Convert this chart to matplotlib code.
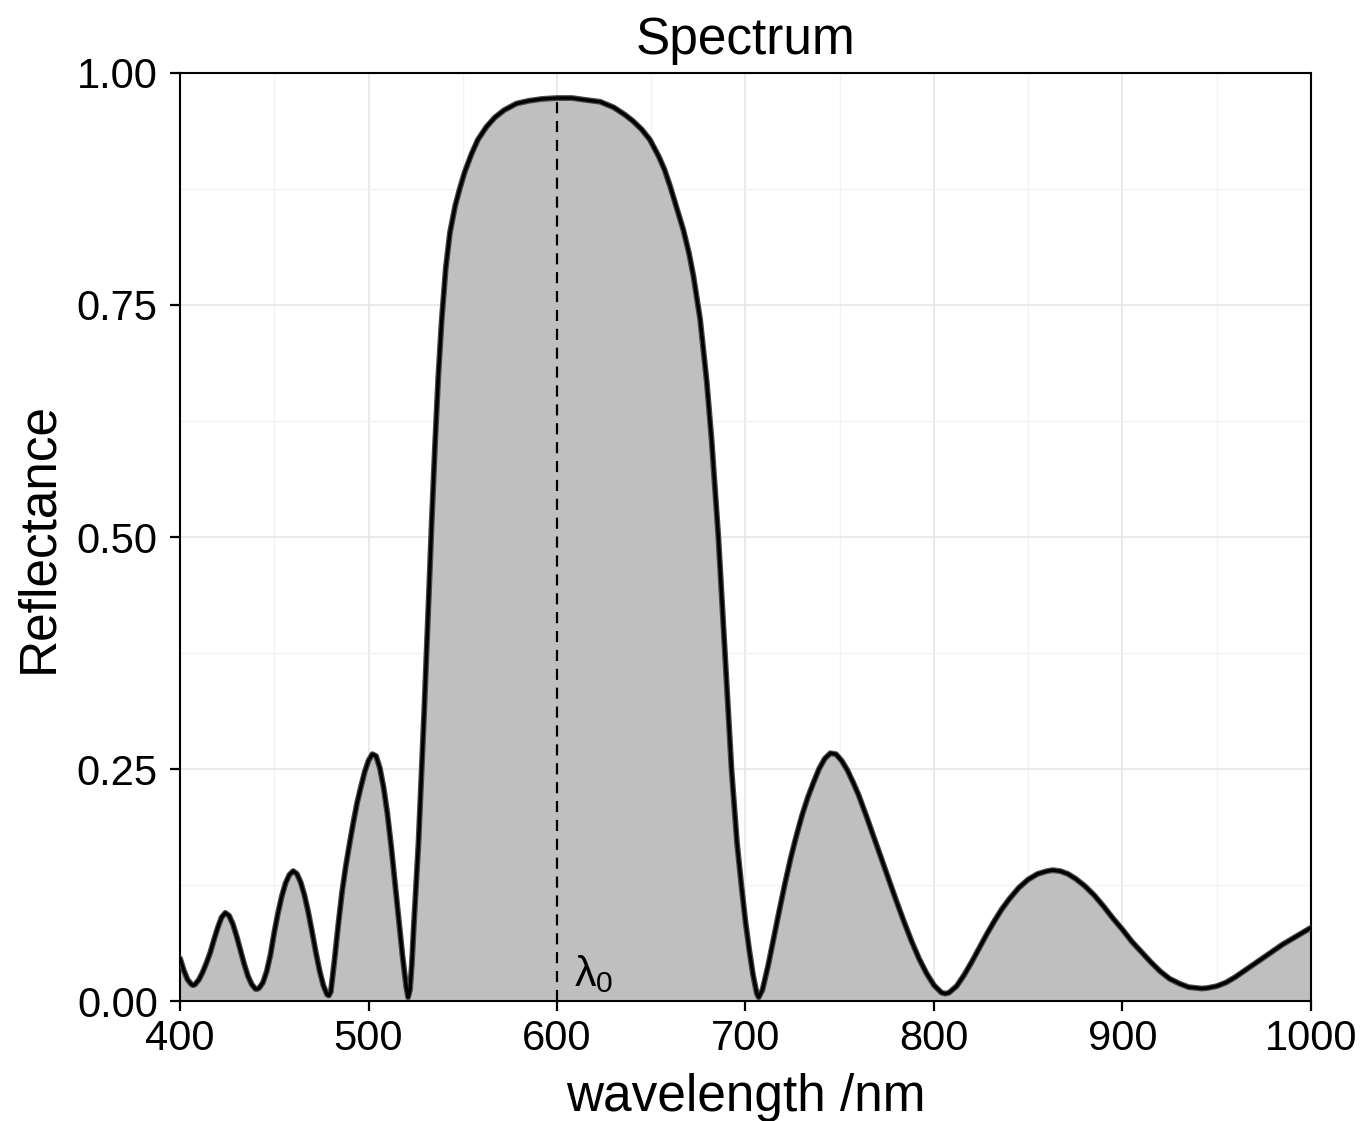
import matplotlib
matplotlib.use("Agg")
import matplotlib.pyplot as plt
from matplotlib.ticker import MultipleLocator

plt.rcParams['font.family'] = ['Liberation Sans', 'DejaVu Sans']

# wavelength (nm) and reflectance
wl = [400, 402, 404, 406, 407, 408, 410, 412, 414, 416, 418, 420, 422, 424,
      426, 428, 430, 432, 434, 436, 438, 440, 441, 442, 444, 446, 448, 450,
      452, 454, 456, 458, 460, 462, 464, 466, 468, 470, 472, 474, 476, 478,
      479, 480, 482, 484, 486, 488, 490, 492, 494, 496, 498, 500, 502, 504,
      506, 508, 510, 512, 514, 516, 518, 520, 521, 522, 523, 524, 525.2,
      526.5, 528.2, 529.5, 530.8, 532, 533.5, 535.3, 537, 538.8, 541, 543.2,
      546, 548.5, 551, 554.7, 558, 562.6, 567, 572, 578.5, 585, 592, 600,
      608, 615, 622.8, 630, 636, 640.4, 645, 649.3, 654, 657, 660, 663, 667,
      670, 672.3, 675.9, 679.4, 682, 685.6, 689.1, 692.6, 695.5, 697.9, 700,
      702, 704, 706, 707, 709, 712, 715, 718, 721, 724, 727, 730, 733, 736,
      739, 742, 745, 748, 751, 754, 757, 760, 764, 768, 772, 776, 780, 784,
      788, 792, 796, 800, 804, 806, 808, 812, 816, 820, 824, 828, 832, 836,
      840, 845, 850, 855, 860, 863, 867, 871, 875, 880, 885, 890, 895, 900,
      905, 910, 915, 920, 925, 930, 935, 942, 945, 950, 955, 960, 965, 970,
      975, 980, 985, 990, 995, 1000]
refl = [0.046, 0.033, 0.023, 0.018, 0.017, 0.018, 0.023, 0.031, 0.041, 0.052,
        0.066, 0.079, 0.090, 0.095, 0.092, 0.083, 0.070, 0.055, 0.040, 0.027,
        0.018, 0.013, 0.013, 0.014, 0.020, 0.032, 0.050, 0.074, 0.095, 0.113,
        0.127, 0.136, 0.140, 0.137, 0.128, 0.114, 0.096, 0.075, 0.053, 0.033,
        0.017, 0.007, 0.006, 0.010, 0.045, 0.083, 0.118, 0.146, 0.170, 0.193,
        0.214, 0.231, 0.247, 0.259, 0.266, 0.264, 0.251, 0.230, 0.202, 0.167,
        0.128, 0.088, 0.049, 0.015, 0.004, 0.012, 0.040, 0.080, 0.123, 0.170,
        0.249, 0.310, 0.375, 0.437, 0.515, 0.600, 0.672, 0.733, 0.790, 0.828,
        0.857, 0.876, 0.893, 0.913, 0.928, 0.942, 0.952, 0.960, 0.967, 0.970,
        0.972, 0.973, 0.973, 0.971, 0.969, 0.963, 0.955, 0.948, 0.939, 0.928,
        0.910, 0.896, 0.878, 0.858, 0.831, 0.806, 0.782, 0.735, 0.668, 0.605,
        0.500, 0.375, 0.249, 0.170, 0.123, 0.085, 0.055, 0.028, 0.008, 0.004,
        0.012, 0.038, 0.068, 0.098, 0.127, 0.154, 0.178, 0.200, 0.219, 0.235,
        0.250, 0.261, 0.267, 0.266, 0.259, 0.249, 0.236, 0.222, 0.200, 0.177,
        0.154, 0.131, 0.108, 0.086, 0.065, 0.046, 0.030, 0.017, 0.009, 0.008,
        0.009, 0.016, 0.028, 0.042, 0.057, 0.072, 0.086, 0.099, 0.110, 0.122,
        0.131, 0.137, 0.140, 0.141, 0.140, 0.137, 0.132, 0.124, 0.114, 0.102,
        0.089, 0.077, 0.064, 0.053, 0.042, 0.032, 0.024, 0.019, 0.015, 0.0135,
        0.014, 0.016, 0.020, 0.026, 0.033, 0.040, 0.047, 0.054, 0.061, 0.067,
        0.073, 0.079]
lambda0 = 600

fig = plt.figure(figsize=(13.65, 11.21), dpi=100)
ax = fig.add_axes([0.1319, 0.1070, 0.8285, 0.8279])

ax.fill_between(wl, 0, refl, color='#bfbfbf', lw=0, zorder=2)
ax.plot(wl, refl, color='#4a4a4a', lw=4.2, zorder=3, solid_capstyle='round',
        solid_joinstyle='round')
ax.plot(wl, refl, color='black', lw=2.4, zorder=4, solid_capstyle='round',
        solid_joinstyle='round')

r0 = refl[wl.index(lambda0)]
ax.vlines(lambda0, 0, r0, colors='black', linestyles=(0, (5, 3.5)), lw=1.6, zorder=5)
ax.text(lambda0 + 9, 0.006, r'$\mathregular{\lambda_0}$', fontsize=31,
        ha='left', va='bottom', zorder=6)

ax.set_xlim(400, 1000)
ax.set_ylim(0, 1)
ax.xaxis.set_major_locator(MultipleLocator(100))
ax.xaxis.set_minor_locator(MultipleLocator(50))
ax.yaxis.set_major_locator(MultipleLocator(0.25))
ax.yaxis.set_minor_locator(MultipleLocator(0.125))
ax.yaxis.set_major_formatter(plt.FuncFormatter(lambda v, p: f"{v:.2f}"))

ax.grid(which='major', color='#e6e6e6', lw=1.2, zorder=0)
ax.grid(which='minor', color='#f2f2f2', lw=1.0, zorder=0)
ax.set_axisbelow(True)

ax.tick_params(which='major', direction='out', length=7, width=1.6, labelsize=30)
ax.tick_params(axis='y', pad=9)
ax.tick_params(axis='x', pad=6)
ax.tick_params(which='minor', length=0)
for s in ax.spines.values():
    s.set_linewidth(1.5)

ax.set_title("Spectrum", fontsize=37, pad=14)
ax.set_xlabel("wavelength /nm", fontsize=37, labelpad=10)
ax.set_ylabel("Reflectance", fontsize=37, labelpad=10)

fig.savefig("out.png", dpi=100)
